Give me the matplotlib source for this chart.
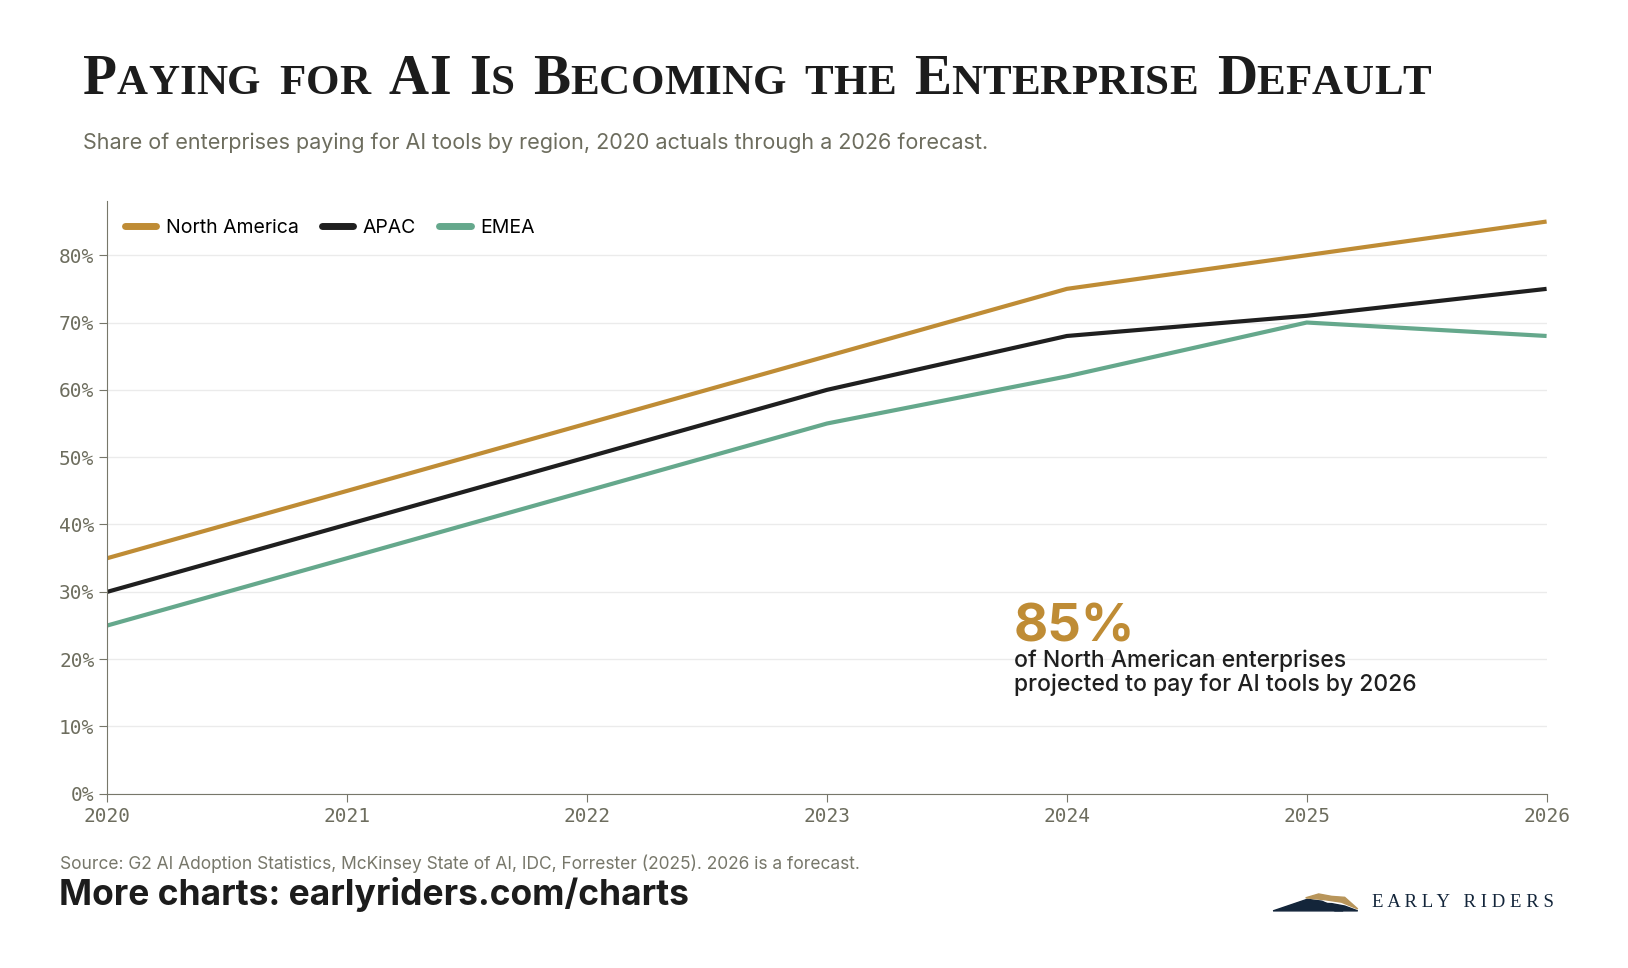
import matplotlib
matplotlib.use("Agg")
import matplotlib.pyplot as plt
from matplotlib.patches import Polygon

years = [2020, 2021, 2022, 2023, 2024, 2025, 2026]
north_america = [35, 45, 55, 65, 75, 80, 85]
apac = [30, 40, 50, 60, 68, 71, 75]
emea = [25, 35, 45, 55, 62, 70, 68]
series = [("North America", north_america, "#bf8c35"),
          ("APAC", apac, "#1f1f1f"),
          ("EMEA", emea, "#65a88c")]
yticks = [0, 10, 20, 30, 40, 50, 60, 70, 80]

fig = plt.figure(figsize=(16.28, 9.68), dpi=100)
ax = fig.add_axes([0.066, 0.180, 0.884, 0.612])
for name, vals, c in series:
    ax.plot(years, vals, color=c, lw=3, label=name, solid_capstyle="butt")
ax.set_xlim(2020, 2026)
ax.set_ylim(0, 88)
ax.set_yticks(yticks)
ax.set_yticklabels([f"{v}%" for v in yticks])
ax.set_xticks(years)
ax.grid(axis="y", color="#ebebeb", lw=1)
ax.set_axisbelow(True)
for s in ["top", "right"]:
    ax.spines[s].set_visible(False)
for s in ["left", "bottom"]:
    ax.spines[s].set_color("#77776a")
ax.tick_params(colors="#77776a", labelcolor="#6d6d5e", length=6, labelsize=14)
for lab in ax.get_xticklabels() + ax.get_yticklabels():
    lab.set_family("DejaVu Sans Mono")
leg = ax.legend(loc="upper left", ncol=3, frameon=False,
                handlelength=1.6, columnspacing=1.2, handletextpad=0.5,
                bbox_to_anchor=(0.0, 1.0), prop={"family": "Inter", "size": 14})
for h in leg.legend_handles:
    h.set_linewidth(5); h.set_solid_capstyle("round")

ax.text(2023.78, 22.6, "85%", fontsize=38, fontweight="bold", color="#bf8c35", family="Inter")
ax.text(2023.78, 15.2, "of North American enterprises\nprojected to pay for AI tools by 2026",
        fontsize=16.5, color="#1f1f1f", family="Inter", fontweight="medium", linespacing=1.1)

# small caps title
title = "Paying for AI Is Becoming the Enterprise Default"
fig.canvas.draw()
r = fig.canvas.get_renderer()
x = 0.051
y = 0.903
big, small = 40, 31
for wi, word in enumerate(title.split(" ")):
    for ch in word:
        sz = big if ch.isupper() else small
        t = fig.text(x, y, ch.upper(), fontsize=sz, family="Liberation Serif",
                     fontweight="bold", color="#1c1c1c")
        bb = t.get_window_extent(r)
        x += bb.width / fig.bbox.width
    x += 0.0115
fig.text(0.051, 0.853, "Share of enterprises paying for AI tools by region, 2020 actuals through a 2026 forecast.",
         fontsize=15.5, color="#6d6d5e", family="Inter", va="center")
fig.text(0.037, 0.108, "Source: G2 AI Adoption Statistics, McKinsey State of AI, IDC, Forrester (2025). 2026 is a forecast.",
         fontsize=12.5, color="#77776a", family="Inter", va="center")
fig.text(0.036, 0.076, "More charts: earlyriders.com/charts", fontsize=25.5, fontweight="bold",
         color="#1c1c1c", family="Inter", va="center")

# logo
navy = "#13253a"
fig.patches.append(Polygon([[0.782, 0.059], [0.803, 0.071], [0.812, 0.069], [0.825, 0.059]],
                           closed=True, transform=fig.transFigure, color=navy))
fig.patches.append(Polygon([[0.810, 0.067], [0.818, 0.0665], [0.826, 0.064], [0.834, 0.059], [0.820, 0.059]],
                           closed=True, transform=fig.transFigure, color=navy))
fig.patches.append(Polygon([[0.802, 0.0725], [0.810, 0.0765], [0.818, 0.074], [0.826, 0.073], [0.834, 0.061],
                            [0.824, 0.068], [0.814, 0.0705]],
                           closed=True, transform=fig.transFigure, color="#b8955a"))
fig.text(0.843, 0.068, "E A R L Y   R I D E R S", fontsize=13.5, family="Liberation Serif",
         color=navy, va="center")
fig.savefig("out.png", dpi=100, facecolor="white")
